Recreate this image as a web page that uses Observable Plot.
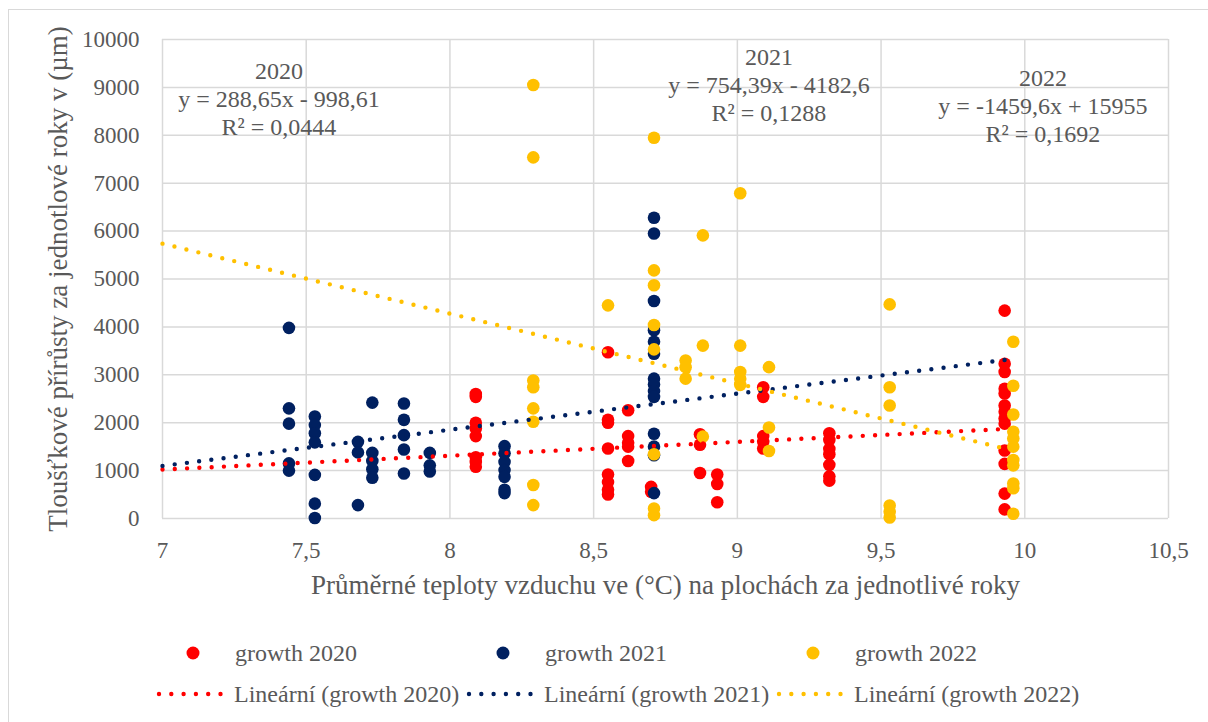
<!DOCTYPE html>
<html><head><meta charset="utf-8">
<script src="https://cdn.jsdelivr.net/npm/d3@7"></script>
<script src="https://cdn.jsdelivr.net/npm/@observablehq/plot@0.6"></script>
<style>
html,body{margin:0;padding:0;background:#fff;overflow:hidden;}
#wrap{position:relative;width:1208px;height:722px;overflow:hidden;font-family:"Liberation Serif","Times New Roman",serif;}
#border{position:absolute;left:8px;top:9px;width:1300px;height:900px;border:1.5px solid #d9d9d9;box-sizing:border-box;}
#chart{position:absolute;left:0;top:0;}
#legend{position:absolute;left:0;top:0;}
</style>
</head><body>
<div id="wrap"><div id="border"></div><div id="chart"></div><svg id="legend" width="1208" height="722"></svg></div>
<script>
// ---- data ----
const xTicks = [7, 7.5, 8, 8.5, 9, 9.5, 10, 10.5];
const yTicks = [0, 1000, 2000, 3000, 4000, 5000, 6000, 7000, 8000, 9000, 10000];

const x2020 = [8.09,8.09,8.09,8.09,8.09,8.09,8.09,8.09,
  8.55,8.55,8.55,8.55,8.55,8.55,8.55,8.55,
  8.62,8.62,8.62,8.62,8.62,
  8.70,8.70,
  8.87,8.87,8.87,
  8.93,8.93,8.93,
  9.09,9.09,9.09,9.09,9.09,
  9.32,9.32,9.32,9.32,9.32,9.32,9.32,
  9.93,9.93,9.93,9.93,9.93,9.93,9.93,9.93,9.93,9.93,9.93,9.93,9.93];
const y2020 = [2600,2540,2000,1880,1720,1280,1180,1080,
  3470,2060,2000,1460,920,760,600,500,
  2260,1720,1580,1500,1200,
  660,560,
  1760,1540,950,
  920,720,340,
  2740,2540,1720,1600,1460,
  1780,1640,1450,1340,1120,880,790,
  4340,3230,3060,2710,2610,2360,2230,2090,1980,1420,1140,520,190];

const x2021 = [7.44,7.44,7.44,7.44,7.44,
  7.53,7.53,7.53,7.53,7.53,7.53,7.53,
  7.68,7.68,7.68,
  7.73,7.73,7.73,7.73,7.73,
  7.84,7.84,7.84,7.84,7.84,
  7.93,7.93,7.93,
  8.19,8.19,8.19,8.19,8.19,8.19,8.19,
  8.71,8.71,8.71,8.71,8.71,8.71,8.71,8.71,8.71,8.71,8.71,8.71,8.71,8.71];
const y2021 = [3980,2300,1980,1150,1000,
  2130,1950,1780,1590,910,310,10,
  1600,1380,280,
  2420,1370,1200,1030,850,
  2400,2060,1740,1440,940,
  1370,1110,980,
  1510,1360,1180,1010,870,600,530,
  6280,5950,4540,3930,3690,3440,2920,2800,2660,2540,1770,1500,1320,530];

const x2022 = [8.29,8.29,8.29,8.29,8.29,8.29,8.29,8.29,
  8.55,
  8.71,8.71,8.71,8.71,8.71,8.71,8.71,8.71,
  8.82,8.82,8.82,
  8.88,8.88,8.88,
  9.01,9.01,9.01,9.01,9.01,
  9.11,9.11,9.11,
  9.53,9.53,9.53,9.53,9.53,9.53,
  9.96,9.96,9.96,9.96,9.96,9.96,9.96,9.96,9.96,9.96,9.96];
const y2022 = [9050,7540,2880,2740,2300,2020,700,280,
  4450,
  7950,5180,4870,4040,3530,1340,210,70,
  3300,3160,2920,
  5910,3610,1710,
  6790,3610,3060,2920,2790,
  3160,1900,1410,
  4470,2740,2360,270,140,20,
  3690,2770,2170,1810,1670,1500,1220,1110,730,630,100];

// trendline end points
const trendX = [7, 9.93];
const trend2020 = [1022, 1868];
const trend2021 = [1098, 3309];
const trend2022 = [5738, 1461];

const annX = [7.405, 9.11, 10.063];
const annY = [8775, 9067, 8628];
const annText = [
  "2020\ny = 288,65x - 998,61\nR² = 0,0444",
  "2021\ny = 754,39x - 4182,6\nR² = 0,1288",
  "2022\ny = -1459,6x + 15955\nR² = 0,1692"
];

const seriesNames = ["growth 2020", "growth 2021", "growth 2022"];
const trendNames = ["Lineární (growth 2020)", "Lineární (growth 2021)", "Lineární (growth 2022)"];
const colors = ["#FF0000", "#002060", "#FFC000"];

const xTitle = "Průměrné teploty vzduchu ve (°C) na plochách za jednotlivé roky";
const yTitle = "Tloušťkové přírůsty za jednotlové roky v (µm)";

// ---- build ----
const pts = (xs, ys) => xs.map((x, i) => ({x, y: ys[i]}));
const trendPts = ys => trendX.map((x, i) => ({x, y: ys[i]}));
const textColor = "#595959";
const serif = "'Liberation Serif', 'Times New Roman', serif";
const dotted = {strokeWidth: 4.4, strokeDasharray: "0 12.3", strokeLinecap: "round"};

const chart = Plot.plot({
  width: 1208, height: 722,
  marginLeft: 162, marginRight: 40, marginTop: 39, marginBottom: 204,
  style: {fontFamily: serif, fontSize: "23px", color: textColor, background: "transparent", overflow: "visible"},
  x: {domain: [7, 10.5], ticks: xTicks, tickFormat: d => String(d).replace(".", ","), tickSize: 0, tickPadding: 23, label: null},
  y: {domain: [0, 10000], ticks: yTicks, tickFormat: d => String(d), tickSize: 0, tickPadding: 23, label: null},
  marks: [
    Plot.ruleX(xTicks, {stroke: "#d9d9d9", strokeWidth: 1.5}),
    Plot.ruleY(yTicks, {stroke: "#d9d9d9", strokeWidth: 1.5}),
    Plot.dot(pts(x2020, y2020), {x: "x", y: "y", r: 6.3, fill: colors[0]}),
    Plot.dot(pts(x2021, y2021), {x: "x", y: "y", r: 6.3, fill: colors[1]}),
    Plot.dot(pts(x2022, y2022), {x: "x", y: "y", r: 6.3, fill: colors[2]}),
    Plot.line(trendPts(trend2020), {x: "x", y: "y", stroke: colors[0], ...dotted}),
    Plot.line(trendPts(trend2021), {x: "x", y: "y", stroke: colors[1], ...dotted}),
    Plot.line(trendPts(trend2022), {x: "x", y: "y", stroke: colors[2], ...dotted}),
    Plot.text(annText, {x: (d, i) => annX[i], y: (d, i) => annY[i], text: d => d, fill: textColor, fontSize: 24, lineHeight: 1.15, textAnchor: "middle", lineAnchor: "middle"}),
    Plot.text([xTitle], {frameAnchor: "bottom", dy: 67, text: d => d, fill: textColor, fontSize: 27, textAnchor: "middle", lineAnchor: "middle"}),
    Plot.text([yTitle], {frameAnchor: "left", dx: -104, rotate: -90, text: d => d, fill: textColor, fontSize: 27, textAnchor: "middle", lineAnchor: "middle"})
  ]
});
document.getElementById("chart").appendChild(chart);

// ---- legend ----
const lg = d3.select("#legend");
const row1Y = 653, row2Y = 694;
const itemX = [159, 469, 779];
colors.forEach((c, i) => {
  const x0 = itemX[i];
  lg.append("circle").attr("cx", x0 + 34).attr("cy", row1Y).attr("r", 6.5).attr("fill", c);
  lg.append("text").attr("x", x0 + 76).attr("y", row1Y).attr("dy", "0.35em")
    .attr("font-family", serif).attr("font-size", 24).attr("fill", textColor).text(seriesNames[i]);
  lg.append("line").attr("x1", x0).attr("x2", x0 + 62).attr("y1", row2Y).attr("y2", row2Y)
    .attr("stroke", c).attr("stroke-width", 4.4).attr("stroke-dasharray", "0 12.3").attr("stroke-linecap", "round");
  lg.append("text").attr("x", x0 + 75).attr("y", row2Y).attr("dy", "0.35em")
    .attr("font-family", serif).attr("font-size", 24).attr("fill", textColor).text(trendNames[i]);
});
</script>
</body></html>
